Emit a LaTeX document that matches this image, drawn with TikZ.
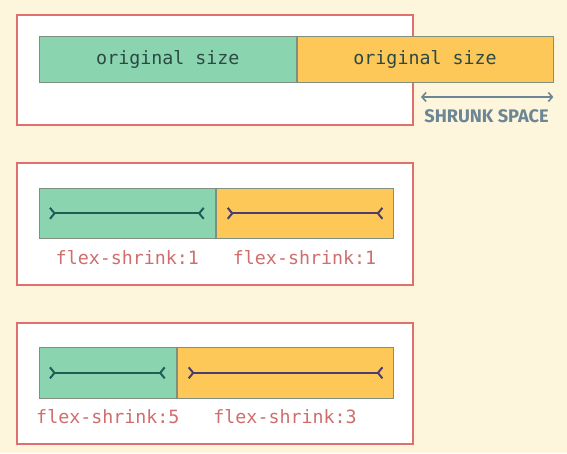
\documentclass[tikz,border=0pt]{standalone}
\usepackage{fontspec}
\setmonofont{DejaVu Sans Mono}
\setsansfont{Fira Sans}
\usetikzlibrary{positioning,arrows.meta}
\definecolor{paper}{HTML}{FDF5DC}
\definecolor{boxred}{HTML}{E0706C}
\definecolor{greenbar}{HTML}{8AD4B0}
\definecolor{orangebar}{HTML}{FDC858}
\definecolor{bargrey}{HTML}{7F8F80}
\definecolor{greenline}{HTML}{1E5E57}
\definecolor{purpleline}{HTML}{4B3D6B}
\definecolor{labelred}{HTML}{CF6E6C}
\definecolor{textdark}{HTML}{2C4A44}
\definecolor{slate}{HTML}{6C8695}
\tikzset{
	panel/.style={draw=boxred, line width=2pt, fill=white},
	bar/.style={draw=bargrey, line width=0.7pt, inner sep=0pt, text=textdark,
		font=\ttfamily\fontsize{18.3}{18.3}\selectfont},
	shrinkline/.style={line width=2pt,
		{Straight Barb[reversed,length=4.5pt,width=11pt]}-{Straight Barb[reversed,length=4.5pt,width=11pt]}},
	flexlabel/.style={text=labelred, font=\ttfamily\fontsize{18.3}{18.3}\selectfont},
}
\begin{document}
\begin{tikzpicture}[x=1pt, y=-1pt, node distance=0pt]
			\fill[paper] (0,0) rectangle (567,453);
			\useasboundingbox (0,0) rectangle (567,453);
			% panels
			\foreach \t/\b in {15/125, 163/285, 323/444}
			\draw[panel] (17,\t) rectangle (413,\b);
			
			% original size
			\node[bar, fill=greenbar, anchor=north west, minimum width=257pt, minimum height=46pt] (g1) at (39,36) {original size};
			\node[bar, fill=orangebar, minimum width=256pt, minimum height=46pt, right=of g1] (o1) {original size};
			\coordinate (s1) at (421,97);
			\draw[slate, line width=1.6pt, {Straight Barb[length=4pt,width=9pt]}-{Straight Barb[length=4pt,width=9pt]}] (s1) -- (s1 -| o1.east);
			\node[text=slate, font=\sffamily\bfseries\fontsize{18.2}{18.2}\selectfont] (t1) at (486.5,116) {SHRUNK SPACE};
			
			% flex-shrink 1 and 1
			\node[bar, fill=greenbar, anchor=north west, minimum width=176pt, minimum height=50pt] (g2) at (39,188) {};
			\node[bar, fill=orangebar, minimum width=177pt, minimum height=50pt, right=of g2] (o2) {};
			\draw[shrinkline, greenline] ([xshift=10pt]g2.west) -- ([xshift=-11pt]g2.east);
			\draw[shrinkline, purpleline] ([xshift=11pt]o2.west) -- ([xshift=-10pt]o2.east);
			\node[flexlabel] (l2) at ([yshift=-19pt]g2.south) {flex-shrink:1};
			\node[flexlabel] (m2) at ([yshift=-19pt]o2.south) {flex-shrink:1};
			
			% flex-shrink 5 and 3
			\node[bar, fill=greenbar, anchor=north west, minimum width=137pt, minimum height=51pt] (g3) at (39,347) {};
			\node[bar, fill=orangebar, minimum width=216pt, minimum height=51pt, right=of g3] (o3) {};
			\draw[shrinkline, greenline] ([xshift=10pt]g3.west) -- ([xshift=-11pt]g3.east);
			\draw[shrinkline, purpleline] ([xshift=11pt]o3.west) -- ([xshift=-10pt]o3.east);
			\node[flexlabel] (l3) at ([yshift=-18pt]g3.south) {flex-shrink:5};
			\node[flexlabel] (m3) at ([yshift=-18pt]o3.south) {flex-shrink:3};
			
		\end{tikzpicture}
\end{document}
